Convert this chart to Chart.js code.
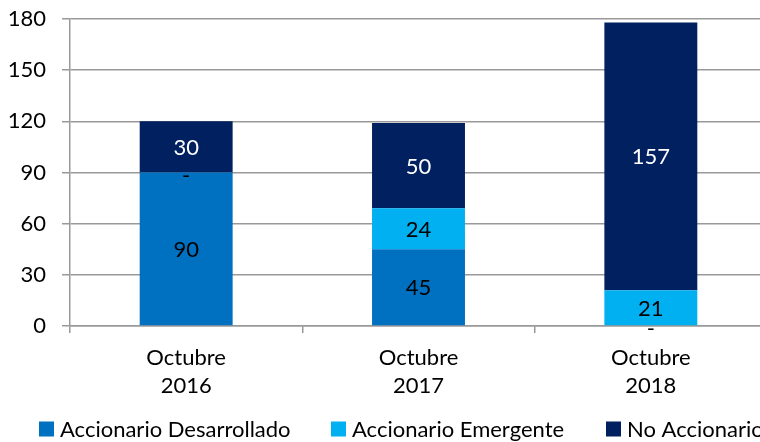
<!DOCTYPE html>
<html>
<head>
<meta charset="utf-8">
<script src="https://cdn.jsdelivr.net/npm/chart.js@4/dist/chart.umd.min.js"></script>
<style>
html,body{margin:0;padding:0;background:#fff;overflow:hidden;width:760px;height:442px;}
canvas{display:block;}
</style>
</head>
<body>
<canvas id="c" width="767" height="442"></canvas>
<script>
const categories = [["Octubre","2016"],["Octubre","2017"],["Octubre","2018"]];
const seriesNames = ["Accionario Desarrollado","Accionario Emergente","No Accionario"];
const desarrollado = [90, 45, 0];
const emergente = [0, 24, 21];
const noAccionario = [30, 50, 157];
const yTicks = [0, 30, 60, 90, 120, 150, 180];

// styles
const colors = ["#0070C0", "#00B0F0", "#002060"];
const labelColors = ["#000000", "#000000", "#FFFFFF"];
const FONT = "Lato, 'Open Sans', sans-serif";
const FS = 22;
const legendBoxX = [39, 331, 606];
const legendY = 429;
const legendBox = 15;

const labelPlugin = {
  id: "barLabels",
  afterDatasetsDraw(chart) {
    const ctx = chart.ctx;
    ctx.save();
    ctx.font = FS + "px " + FONT;
    ctx.textAlign = "center";
    ctx.textBaseline = "middle";
    chart.data.datasets.forEach((ds, i) => {
      const meta = chart.getDatasetMeta(i);
      meta.data.forEach((bar, j) => {
        const v = ds.data[j];
        const p = bar.getProps(["x", "y", "base"], true);
        if (v === 0) {
          ctx.fillStyle = "#000";
          ctx.fillText("-", p.x, p.base + 3);
        } else {
          ctx.fillStyle = labelColors[i];
          ctx.fillText(String(v), p.x, (p.y + p.base) / 2 + 1);
        }
      });
    });
    ctx.restore();
  }
};

const legendPlugin = {
  id: "bottomLegend",
  afterDraw(chart) {
    const ctx = chart.ctx;
    ctx.save();
    ctx.font = FS + "px " + FONT;
    ctx.textAlign = "left";
    ctx.textBaseline = "middle";
    chart.data.datasets.forEach((ds, i) => {
      const x = legendBoxX[i];
      ctx.fillStyle = ds.backgroundColor;
      ctx.fillRect(x, legendY - legendBox / 2, legendBox, legendBox);
      ctx.fillStyle = "#000";
      ctx.fillText(ds.label, x + legendBox + 6, legendY + 1);
    });
    ctx.restore();
  }
};

new Chart(document.getElementById("c"), {
  type: "bar",
  data: {
    labels: categories,
    datasets: [
      { label: seriesNames[0], data: desarrollado, backgroundColor: colors[0] },
      { label: seriesNames[1], data: emergente, backgroundColor: colors[1] },
      { label: seriesNames[2], data: noAccionario, backgroundColor: colors[2] }
    ]
  },
  options: {
    responsive: false,
    animation: false,
    devicePixelRatio: 1,
    layout: { padding: { top: 19, right: 0, left: 0, bottom: 36 } },
    datasets: { bar: { categoryPercentage: 1.0, barPercentage: 0.4 } },
    plugins: {
      legend: { display: false },
      tooltip: { enabled: false }
    },
    scales: {
      x: {
        stacked: true,
        grid: { drawOnChartArea: false, drawTicks: true, tickLength: 7, color: "#999", lineWidth: 1.5, offset: true },
        border: { display: true, color: "#999", width: 1.5 },
        ticks: { font: { size: FS, family: FONT, lineHeight: 1.27 }, color: "#000", padding: 11, maxRotation: 0, autoSkip: false },
        afterFit(s) { s.height = 80; s.paddingLeft = 0; s.paddingRight = 0; }
      },
      y: {
        stacked: true,
        min: 0,
        max: 180,
        afterBuildTicks(s) { s.ticks = yTicks.map(v => ({ value: v })); },
        grid: { color: "#999", lineWidth: 1.5, tickLength: 8, drawTicks: true },
        border: { display: true, color: "#999", width: 1.5 },
        ticks: { font: { size: FS, family: FONT }, color: "#000", padding: 16 },
        afterFit(s) { s.width = 70; s.paddingTop = 0; s.paddingBottom = 0; }
      }
    }
  },
  plugins: [labelPlugin, legendPlugin]
});
</script>
</body>
</html>
